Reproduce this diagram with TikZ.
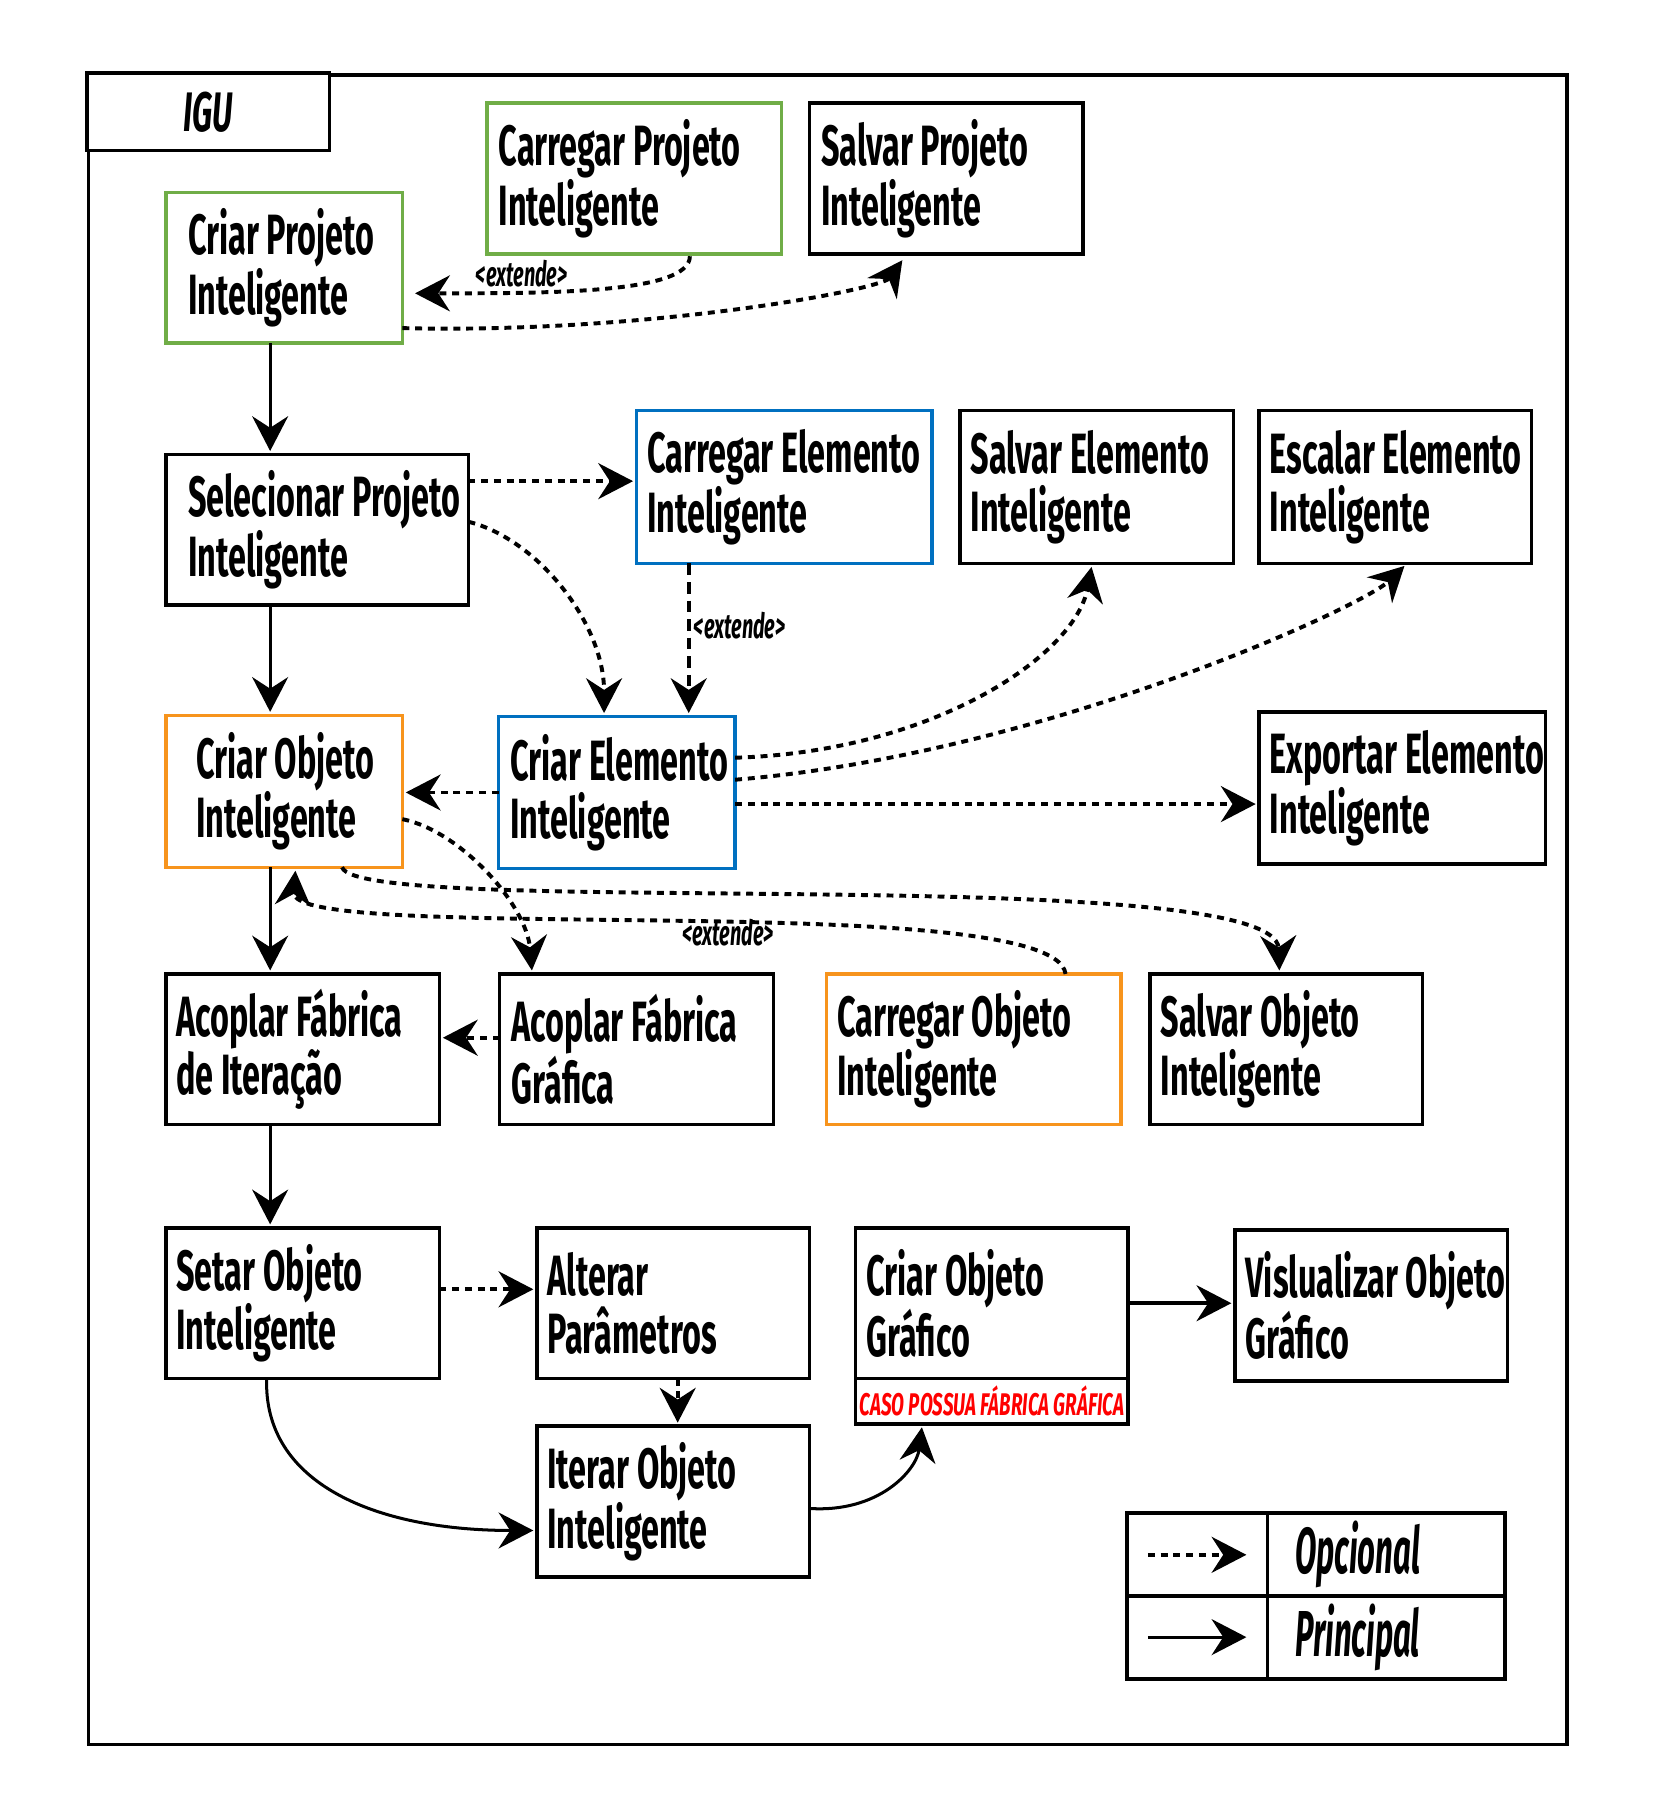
\documentclass[tikz,border=0pt]{standalone}
\usepackage{fontspec}
\setmainfont{Fira Sans}
\newfontfamily\agency[FakeStretch=0.57]{Fira Sans}
\newfontfamily\legfont[FakeStretch=0.48]{Fira Sans}
\newfontfamily\casofont[FakeStretch=0.6]{Fira Sans}
\usetikzlibrary{arrows.meta,calc}
\definecolor{cgreen}{HTML}{70AD47}
\definecolor{cblue}{HTML}{0070C0}
\definecolor{corange}{HTML}{F7941D}
\tikzset{
 box/.style={draw, line width=3pt, inner sep=0pt, outer sep=0pt, anchor=north west, fill=white},
 lbl/.style={font=\agency\bfseries\fontsize{49}{50}\selectfont, align=left, inner sep=0pt, anchor=west},
 tipm/.style={-{Stealth[length=30pt,width=31pt,inset=10pt]}, shorten >=3pt},
 opt/.style={tipm, line width=3.4pt, dash pattern=on 6pt off 5pt},
 mainline/.style={tipm, line width=2.6pt},
 ext/.style={font=\agency\bfseries\itshape\fontsize{30}{32}\selectfont, inner sep=0pt},
 legtxt/.style={font=\legfont\bfseries\itshape\fontsize{56}{60}\selectfont, inner sep=0pt, anchor=west},
}
\newcommand\ubox[8]{%
 \node[box, draw=#2, minimum width={(#5-#3)*1pt}, minimum height={(#6-#4)*1pt}] (#1) at (#3,#4) {};
 \node[lbl] (#1t) at ([xshift=#7pt]#1.west) {#8};
}
\begin{document}
\begin{tikzpicture}[x=1pt,y=-1pt]
\useasboundingbox[fill=white] (0,0) rectangle (1427,1568);
\node[draw, line width=3pt, inner sep=0pt, anchor=north west, minimum width=1275pt, minimum height=1440pt] (frame) at (75,63) {};
\node[box, minimum width=209pt, minimum height=67pt, font=\agency\bfseries\itshape\fontsize{48}{50}\selectfont] (igu) at (75,63) {IGU};

\ubox{cp}{cgreen}{143}{166}{347}{296}{19}{Criar Projeto\\Inteligente}
\ubox{kp}{cgreen}{420}{89}{674}{219}{10}{Carregar Projeto\\Inteligente}
\ubox{sp}{black}{698}{89}{934}{219}{10}{Salvar Projeto\\Inteligente}
\ubox{sel}{black}{143}{392}{404}{522}{19}{Selecionar Projeto\\Inteligente}
\ubox{ke}{cblue}{549}{354}{804}{486}{9}{Carregar Elemento\\Inteligente}
\ubox{se}{black}{828}{354}{1064}{486}{9}{Salvar Elemento\\Inteligente}
\ubox{ee}{black}{1086}{354}{1321}{486}{9}{Escalar Elemento\\Inteligente}
\ubox{co}{corange}{143}{617}{347}{748}{26}{Criar Objeto\\Inteligente}
\ubox{ce}{cblue}{430}{618}{634}{749}{10}{Criar Elemento\\Inteligente}
\ubox{ex}{black}{1086}{614}{1333}{745}{9}{Exportar Elemento\\Inteligente}
\ubox{afi}{black}{143}{840}{379}{970}{9}{Acoplar Fábrica\\de Iteração}
\ubox{afg}{black}{431}{840}{667}{970}{10}{Acoplar Fábrica\\Gráfica}
\ubox{kob}{corange}{713}{840}{967}{970}{9}{Carregar Objeto\\Inteligente}
\ubox{so}{black}{992}{840}{1227}{970}{9}{Salvar Objeto\\Inteligente}
\ubox{set}{black}{143}{1059}{379}{1189}{9}{Setar Objeto\\Inteligente}
\ubox{alt}{black}{463}{1059}{698}{1189}{9}{Alterar\\Parâmetros}
\ubox{cog}{black}{738}{1059}{973}{1189}{9}{Criar Objeto\\Gráfico}
\ubox{vis}{black}{1065}{1061}{1300}{1191}{9}{Vislualizar Objeto\\Gráfico}
\ubox{it}{black}{463}{1230}{698}{1360}{9}{Iterar Objeto\\Inteligente}
\node[box, minimum width=235pt, minimum height=39pt, text=red, font=\casofont\bfseries\itshape\fontsize{27}{28}\selectfont] (cogs) at (738,1189) {CASO POSSUA FÁBRICA GRÁFICA};

% legend
\node[box, minimum width=326pt, minimum height=143pt] (lg) at (972,1305) {};
\draw[line width=3pt] ([xshift=121pt]lg.north west) -- ([xshift=121pt]lg.south west);
\draw[line width=3pt] (lg.west) -- (lg.east);
\coordinate (oa) at (990,1341);
\coordinate (ob) at (1078,1341);
\coordinate (pa) at (990,1412);
\coordinate (pb) at (1078,1412);
\draw[opt] (oa) -- (ob);
\draw[mainline] (pa) -- (pb);
\node[legtxt] (lo) at (1117,1341) {Opcional};
\node[legtxt] (lp) at (1117,1412) {Principal};

% connectors
\draw[opt] ([xshift=48pt,yshift=-2pt]kp.south) .. controls +(0,32) and +(120,0) .. ([xshift=8pt,yshift=-22pt]cp.east);
\node[ext] (x1) at (450,236) {\textless extende\textgreater};
\draw[opt] ([yshift=-52pt]cp.east) .. controls +(210,5) and +(-20,28) .. ([xshift=-36pt,yshift=-3pt]sp.south);
\coordinate (c3) at ([xshift=90pt]cp.south west);
\draw[mainline] (c3) -- (c3 |- sel.north);
\coordinate (c4) at ([yshift=42pt]sel.east);
\draw[opt] (c4) -- (c4 -| ke.west);
\draw[opt] ([yshift=7pt]sel.east) .. controls +(60,15) and +(0,-80) .. ([xshift=-11pt]ce.north);
\coordinate (c6) at ([xshift=45pt]ke.south west);
\draw[opt, dash pattern=on 10pt off 6pt] (c6) -- (c6 |- ce.north);
\node[ext] (x2) at (638,540) {\textless extende\textgreater};
\coordinate (c7) at ([xshift=90pt]sel.south west);
\draw[mainline] (c7) -- (c7 |- co.north);
\draw[opt] (ce.west) -- (ce.west -| co.east);
\draw[opt] ([yshift=30pt]ce.east) .. controls +(170,-5) and +(-15,80) .. ([xshift=-4pt]se.south);
\draw[opt] ([yshift=11pt]ce.east) .. controls +(266,-22) and +(-38,37) .. ([xshift=10pt]ee.south);
\coordinate (c11) at ([yshift=-10pt]ce.east);
\draw[opt] (c11) -- (c11 -| ex.west);
\draw[opt] ([yshift=-24pt]co.east) .. controls +(50,10) and +(-5,-60) .. ([xshift=-90pt]afg.north);
\coordinate (c13) at ([xshift=90pt]co.south west);
\draw[mainline] (c13) -- (c13 |- afi.north);
\draw[opt] ([xshift=50pt]co.south) .. controls +(15,45) and +(-3,-98) .. ([xshift=-6pt]so.north);
\draw[opt] ([xshift=79pt]kob.north) .. controls +(-9,-75) and +(-5,68) .. ([xshift=10pt]co.south);
\node[ext] (x3) at (628,804) {\textless extende\textgreater};
\coordinate (c16) at ([yshift=10pt]afg.west);
\draw[opt] (c16) -- (c16 -| afi.east);
\coordinate (c17) at ([xshift=90pt]afi.south west);
\draw[mainline] (c17) -- (c17 |- set.north);
\coordinate (c18) at ([yshift=12pt]set.east);
\draw[opt] (c18) -- (c18 -| alt.west);
\coordinate (c19) at ([xshift=4pt]alt.south);
\draw[opt] (c19) -- (c19 |- it.north);
\draw[mainline] ([xshift=87pt]set.south west) .. controls +(-3,90) and +(-140,0) .. ([yshift=-25pt]it.west);
\draw[mainline] ([yshift=-6pt]it.east) .. controls +(60,4) and +(-5,40) .. ([xshift=-60pt]cogs.south);
\draw[mainline, line width=3.5pt] (cog.east) -- (cog.east -| vis.west);
\end{tikzpicture}
\end{document}
